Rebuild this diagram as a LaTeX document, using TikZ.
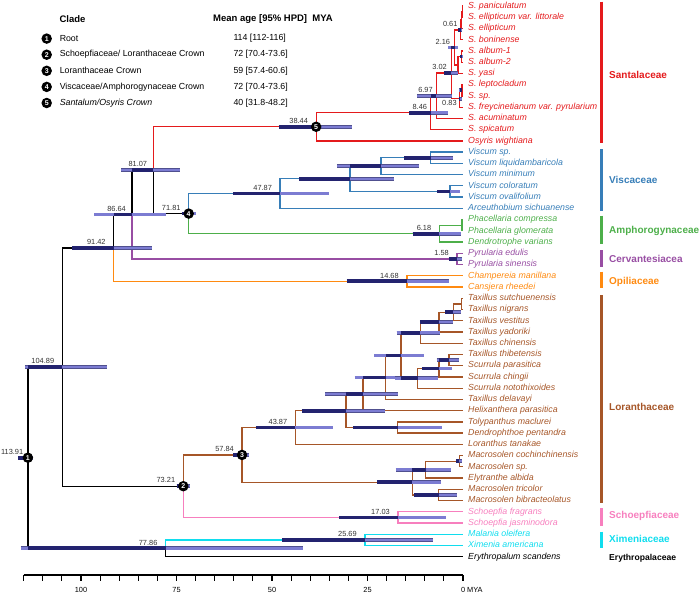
\documentclass[tikz,border=0pt]{standalone}
\usepackage{fontspec}
\setmainfont{Liberation Sans}
\usetikzlibrary{positioning}

\definecolor{santal}{HTML}{E41A1C}
\definecolor{viscum}{HTML}{377EB8}
\definecolor{amphor}{HTML}{4DAF4A}
\definecolor{cervan}{HTML}{984EA3}
\definecolor{opilia}{HTML}{FF8A10}
\definecolor{lorant}{HTML}{A65628}
\definecolor{schoep}{HTML}{F77FBE}
\definecolor{ximen}{HTML}{10DDEE}
\definecolor{hpdfill}{HTML}{7C7CD2}
\definecolor{hpdedge}{HTML}{50508F}
\definecolor{hpddark}{HTML}{23236F}

\tikzset{
  branch/.style={line width=1.3pt},
  tipfont/.style={font=\fontsize{8.8}{10}\selectfont\itshape, inner sep=0pt,
    text height=6.5pt, text depth=1.9pt},
  agelbl/.style={font=\fontsize{7.4}{8}\selectfont, text=black!80, anchor=south east,
    inner sep=0pt, xshift=-8pt, yshift=3pt},
  cladept/.style={circle, fill=black, text=white, inner sep=0pt, minimum size=10.5pt,
    font=\fontsize{7}{8}\selectfont\bfseries},
  hdr/.style={font=\fontsize{9.5}{11}\selectfont\bfseries, anchor=west, inner sep=0pt},
  lgd/.style={font=\fontsize{8.8}{10}\selectfont, anchor=west, inner sep=0pt},
  famlbl/.style={font=\fontsize{10}{12}\selectfont\bfseries, anchor=west, inner sep=0pt},
  fambar/.style={line width=3pt},
  axlbl/.style={font=\fontsize{7.4}{8}\selectfont, inner sep=0pt}
}

% node, older bound, start of dark part, younger bound
\newcommand{\hpd}[4]{%
  \draw[line width=3.8pt, hpdedge] (#2,0 |- #1) -- (#4,0 |- #1);
  \draw[line width=2.4pt, hpdfill] (#2,0 |- #1) -- (#4,0 |- #1);
  \draw[line width=3.8pt, hpddark] (#3,0 |- #1) -- (#1);}

\begin{document}
\begin{tikzpicture}[x=1pt, y=-1pt]
\useasboundingbox (0,0) rectangle (700,594);

% legend
\node[hdr] (hclade) at (59.3,19) {Clade};
\node[hdr] (hage) at (213,19) {Mean age [95\% HPD]\ \ MYA};
\foreach \k/\cl/\val in {1/Root/{114 [112-116]},
    2/{Schoepfiaceae/ Loranthaceae Crown}/{72 [70.4-73.6]},
    3/{Loranthaceae Crown}/{59 [57.4-60.6]},
    4/{Viscaceae/Amphorogynaceae Crown}/{72 [70.4-73.6]},
    5/{\emph{Santalum/Osyris Crown}}/{40 [31.8-48.2]}} {
  \node[cladept] (lc\k) at (46.7,{22.5+16.1*\k}) {\k};
  \node[lgd, right=7.4pt of lc\k] (lt\k) {\cl};
  \node[lgd] (la\k) at (233.3,{22.5+16.1*\k}) {\val};
}

\begin{scope}[xshift=463pt, x=-3.82pt]
% tips
\foreach \name/\col [count=\i from 0] in {
  S. paniculatum/santal, S. ellipticum var. littorale/santal, S. ellipticum/santal,
  S. boninense/santal, S. album-1/santal, S. album-2/santal, S. yasi/santal,
  S. leptocladum/santal, S. sp./santal, S. freycinetianum var. pyrularium/santal,
  S. acuminatum/santal, S. spicatum/santal, Osyris wightiana/santal,
  Viscum sp./viscum, Viscum liquidambaricola/viscum, Viscum minimum/viscum,
  Viscum coloratum/viscum, Viscum ovalifolium/viscum, Arceuthobium sichuanense/viscum,
  Phacellaria compressa/amphor, Phacellaria glomerata/amphor, Dendrotrophe varians/amphor,
  Pyrularia edulis/cervan, Pyrularia sinensis/cervan,
  Champereia manillana/opilia, Cansjera rheedei/opilia,
  Taxillus sutchuenensis/lorant, Taxillus nigrans/lorant, Taxillus vestitus/lorant,
  Taxillus yadoriki/lorant, Taxillus chinensis/lorant, Taxillus thibetensis/lorant,
  Scurrula parasitica/lorant, Scurrula chingii/lorant, Scurrula notothixoides/lorant,
  Taxillus delavayi/lorant, Helixanthera parasitica/lorant, Tolypanthus maclurei/lorant,
  Dendrophthoe pentandra/lorant, Loranthus tanakae/lorant,
  Macrosolen cochinchinensis/lorant, Macrosolen sp./lorant, Elytranthe albida/lorant,
  Macrosolen tricolor/lorant, Macrosolen bibracteolatus/lorant,
  Schoepfia fragrans/schoep, Schoepfia jasminodora/schoep,
  Malania oleifera/ximen, Ximenia americana/ximen, Erythropalum scandens/black}
  \coordinate[label={[tipfont, text=\col, label distance=5pt]right:\name}] (t\i) at (0,{6+11.24*\i});

% internal nodes (age, y)
\coordinate (n1) at (113.91,457.7);
\coordinate (n10489) at (104.89,367.07);
\coordinate (n7786) at (77.86,548.33);
\coordinate (n9142) at (91.42,247.96);
\coordinate (n8664) at (86.64,214.55);
\coordinate (n8107) at (81.07,170.19);
\coordinate (n4) at (71.81,213.59);
\coordinate (n5) at (38.44,126.79);
\coordinate (sa11) at (8.46,112.69);
\coordinate (sa10) at (6.97,95.75);
\coordinate (sa9) at (3.02,73.09);
\coordinate (sa6) at (2.16,47.45);
\coordinate (sa3) at (0.61,29.89);
\coordinate (sa2) at (0.4,20.05);
\coordinate (sa1) at (0.2,11.62);
\coordinate (sa5) at (1.3,65.01);
\coordinate (sa4) at (0.35,56.58);
\coordinate (sa8) at (0.83,98.73);
\coordinate (sa7) at (0.25,90.3);
\coordinate (vi5) at (47.87,193.56);
\coordinate (vi4) at (29.6,178.8);
\coordinate (vi2) at (21.5,166.17);
\coordinate (vi1) at (8.5,157.74);
\coordinate (vi3) at (3.4,191.46);
\coordinate (am2) at (6.18,233.61);
\coordinate (am1) at (0.3,225.18);
\coordinate (ce1) at (1.58,258.9);
\coordinate (op1) at (14.68,281.38);
\coordinate (n2) at (73.21,486.18);
\coordinate (n3) at (57.84,454.93);
\coordinate (lo13) at (43.87,427.57);
\coordinate (lo12) at (30.6,410.77);
\coordinate (lo11) at (17.1,427.5);
\coordinate (lo10) at (26.2,394.04);
\coordinate (lo9) at (20.2,377.45);
\coordinate (lo8) at (16.2,355.49);
\coordinate (lo4) at (11.2,332.66);
\coordinate (lo3) at (6.3,322.13);
\coordinate (lo2) at (2.5,312.29);
\coordinate (lo1) at (0.35,303.86);
\coordinate (lo7) at (11.9,378.33);
\coordinate (lo6) at (6.3,368.49);
\coordinate (lo5) at (3.7,360.06);
\coordinate (lo17) at (13.3,482.3);
\coordinate (lo15) at (9.8,469.65);
\coordinate (lo14) at (1.0,461.22);
\coordinate (lo16) at (6.4,494.94);
\coordinate (sc1) at (17.03,517.42);
\coordinate (xi1) at (25.69,539.9);

% branches
\draw[branch] (n1) |- (n10489) (n1) |- (n7786) (n10489) |- (n9142)
  (n10489) |- (n2) (n9142) |- (n8664) (n8664) |- (n8107) (n8107) |- (n4)
  (n7786) |- (t49);
\draw[branch, santal] (n8107) |- (n5) (n5) |- (sa11) (n5) |- (t12)
  (sa11) |- (sa10) (sa11) |- (t11) (sa10) |- (sa9) (sa10) |- (t10)
  (sa9) |- (sa6) (sa9) |- (sa8) (sa6) |- (sa3) (sa6) |- (sa5)
  (sa3) |- (sa2) (sa3) |- (t3) (sa2) |- (sa1) (sa2) |- (t2)
  (sa1) |- (t0) (sa1) |- (t1) (sa5) |- (sa4) (sa5) |- (t6)
  (sa4) |- (t4) (sa4) |- (t5) (sa8) |- (sa7) (sa8) |- (t9)
  (sa7) |- (t7) (sa7) |- (t8);
\draw[branch, viscum] (n4) |- (vi5) (vi5) |- (vi4) (vi5) |- (t18)
  (vi4) |- (vi2) (vi4) |- (vi3) (vi2) |- (vi1) (vi2) |- (t15)
  (vi1) |- (t13) (vi1) |- (t14) (vi3) |- (t16) (vi3) |- (t17);
\draw[branch, amphor] (n4) |- (am2) (am2) |- (am1) (am2) |- (t21)
  (am1) |- (t19) (am1) |- (t20);
\draw[branch, cervan] (n8664) |- (ce1) (ce1) |- (t22) (ce1) |- (t23);
\draw[branch, opilia] (n9142) |- (op1) (op1) |- (t24) (op1) |- (t25);
\draw[branch, lorant] (n2) |- (n3) (n3) |- (lo13) (n3) |- (lo17)
  (lo13) |- (lo12) (lo13) |- (t39) (lo12) |- (lo10) (lo12) |- (lo11)
  (lo10) |- (lo9) (lo10) |- (t36) (lo9) |- (lo8) (lo9) |- (t35)
  (lo8) |- (lo4) (lo8) |- (lo7) (lo4) |- (lo3) (lo4) |- (t30)
  (lo3) |- (lo2) (lo3) |- (t29) (lo2) |- (lo1) (lo2) |- (t28)
  (lo1) |- (t26) (lo1) |- (t27) (lo7) |- (lo6) (lo7) |- (t34)
  (lo6) |- (lo5) (lo6) |- (t33) (lo5) |- (t31) (lo5) |- (t32)
  (lo11) |- (t37) (lo11) |- (t38) (lo17) |- (lo15) (lo17) |- (lo16)
  (lo15) |- (lo14) (lo15) |- (t42) (lo14) |- (t40) (lo14) |- (t41)
  (lo16) |- (t43) (lo16) |- (t44);
\draw[branch, schoep] (n2) |- (sc1) (sc1) |- (t45) (sc1) |- (t46);
\draw[branch, ximen] (n7786) |- (xi1) (xi1) |- (t47) (xi1) |- (t48);

% 95% HPD bars
\hpd{n1}{116.4}{116.4}{112.5}
\hpd{n10489}{114.7}{113.91}{93.2}
\hpd{n7786}{115.8}{113.91}{42.0}
\hpd{n9142}{102.3}{102.3}{81.5}
\hpd{n8664}{96.5}{91.42}{77.8}
\hpd{n8107}{89.5}{86.64}{74.0}
\hpd{n4}{73.6}{73.6}{69.9}
\hpd{n5}{48.2}{48.2}{29.1}
\hpd{sa11}{14.1}{14.1}{3.9}
\hpd{sa10}{12.1}{8.46}{3.0}
\hpd{sa9}{5.0}{5.0}{1.3}
\hpd{sa6}{3.9}{3.02}{1.3}
\hpd{sa3}{1.3}{1.3}{0.26}
\hpd{sa8}{1.1}{1.1}{0.3}
\hpd{sa7}{1.1}{0.83}{0.2}
\hpd{sa4}{0.7}{0.7}{0.1}
\hpd{vi5}{60.2}{60.2}{35.1}
\hpd{vi4}{42.9}{42.9}{18.1}
\hpd{vi2}{33.0}{29.6}{11.5}
\hpd{vi1}{15.4}{15.4}{2.6}
\hpd{vi3}{6.8}{6.8}{0.8}
\hpd{am2}{13.2}{13.2}{0.5}
\hpd{ce1}{3.7}{3.7}{0.3}
\hpd{op1}{30.4}{30.4}{3.7}
\hpd{n2}{75.0}{75.0}{71.5}
\hpd{n3}{60.2}{60.2}{56.0}
\hpd{lo13}{54.2}{54.2}{34.0}
\hpd{lo12}{42.2}{42.2}{20.4}
\hpd{lo10}{36.1}{30.6}{17.0}
\hpd{lo9}{28.3}{26.2}{13.1}
\hpd{lo8}{23.3}{20.2}{10.2}
\hpd{lo4}{17.4}{16.2}{6.0}
\hpd{lo3}{11.3}{11.2}{2.7}
\hpd{lo2}{4.7}{4.7}{0.5}
\hpd{lo7}{17.8}{16.2}{6.5}
\hpd{lo6}{10.7}{10.7}{2.8}
\hpd{lo5}{6.9}{6.3}{1.0}
\hpd{lo11}{28.7}{28.7}{5.4}
\hpd{lo17}{22.5}{22.5}{5.8}
\hpd{lo15}{17.6}{13.3}{3.1}
\hpd{lo16}{12.8}{12.8}{1.6}
\hpd{lo14}{1.8}{1.8}{0.3}
\hpd{sc1}{32.4}{32.4}{4.5}
\hpd{xi1}{47.3}{47.3}{7.8}

% ages
\foreach \nd/\txt/\dx in {n1/113.91/3.5, n10489/104.89/0, n9142/91.42/0,
    n8664/86.64/2, n8107/81.07/2, n4/71.81/0, n5/38.44/0, sa11/8.46/4.5,
    sa10/6.97/4.5, sa9/3.02/3.5, sa6/2.16/3.5, sa3/0.61/5, vi5/47.87/0,
    am2/6.18/0, ce1/1.58/0, op1/14.68/0, n2/73.21/0, n3/57.84/0,
    lo13/43.87/0, sc1/17.03/0, xi1/25.69/0, n7786/77.86/0}
  \node[agelbl, xshift=\dx pt] (a\nd) at (\nd) {\txt};
\node[agelbl, anchor=north east, xshift=5pt, yshift=-4pt] (asa8) at (sa8) {0.83};

% clade markers
\foreach \nd/\k in {n1/1, n2/2, n3/3, n4/4, n5/5}
  \node[cladept] (m\k) at (\nd) {\k};

% time axis
\draw[line width=1.1pt] (115,575) -- (0,575);
\foreach \t in {0,5,...,115}
  \draw[line width=1.1pt] (\t,575) -- (\t,581);
\foreach \t in {25,50,75,100}
  \node[axlbl] (ax\t) at (\t,589.5) {\t};
\node[axlbl, anchor=west, xshift=-2.2pt] (ax0) at (0,589.5) {0 MYA};
\end{scope}

% families
\foreach \fam/\col/\ya/\yb/\yl in {Santalaceae/santal/1.7/142.7/75,
    Viscaceae/viscum/149.3/210.7/180, Amphorogynaceae/amphor/215.7/244.3/231,
    Cervantesiacea/cervan/250/266.7/258.7, Opiliaceae/opilia/271.7/288.3/281.7,
    Loranthaceae/lorant/295/503.3/407.3, Schoepfiaceae/schoep/508.3/526/516,
    Ximeniaceae/ximen/531.7/548.3/539.3} {
  \draw[fambar, \col] (601.3,\ya) -- (601.3,\yb);
  \node[famlbl, text=\col] (f\fam) at (609,\yl) {\fam};
}
\node[famlbl, font=\fontsize{8.6}{10}\selectfont\bfseries] (fEry) at (609,558.3) {Erythropalaceae};
\end{tikzpicture}
\end{document}
